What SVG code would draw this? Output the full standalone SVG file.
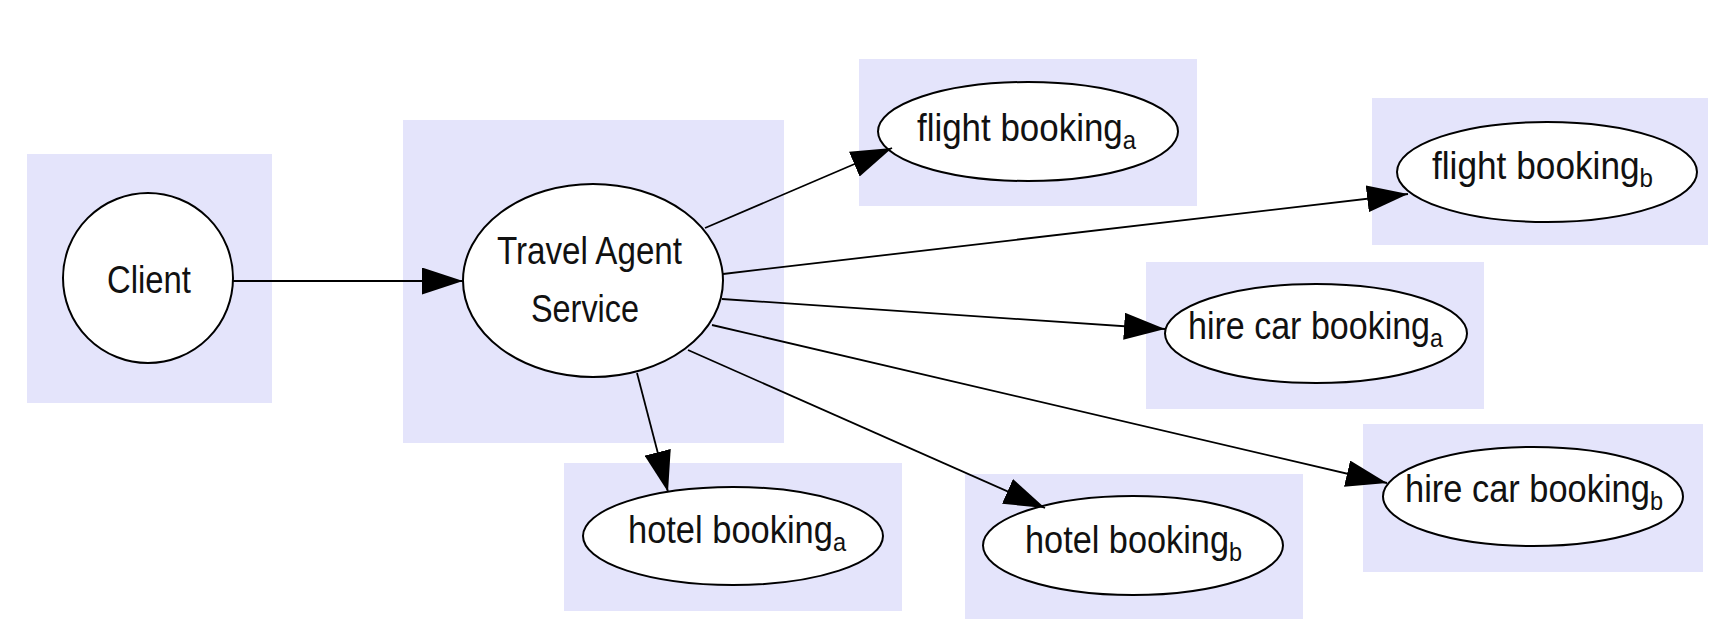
<svg xmlns="http://www.w3.org/2000/svg" width="1712" height="632" viewBox="0 0 1712 632">
<style>
.cl{fill:#e4e4fb;stroke:none}
.nd{fill:#fff;stroke:#000;stroke-width:2}
.t{font-family:"Liberation Sans",Arial,sans-serif;font-size:38px;fill:#111}
.s{font-size:26px}
.e{fill:none;stroke:#000;stroke-width:1.8}
</style>
<defs>
<marker id="ah" viewBox="0 0 41 27" refX="41" refY="13.5" markerWidth="41" markerHeight="27" markerUnits="userSpaceOnUse" orient="auto">
<path d="M0,0 L41,13.5 L0,27 Z" fill="#000"/>
</marker>
</defs>
<rect width="1712" height="632" fill="#fff"/>
<g id="client">
<rect class="cl" x="27" y="154" width="245" height="249"/>
<circle class="nd" cx="148" cy="278" r="85"/>
<text class="t" x="107" y="293" textLength="84" lengthAdjust="spacingAndGlyphs">Client</text>
</g>
<g id="travel">
<rect class="cl" x="403" y="120" width="381" height="323"/>
<ellipse class="nd" cx="593" cy="280.5" rx="130" ry="96.5"/>
<text class="t" x="497" y="264" textLength="185" lengthAdjust="spacingAndGlyphs">Travel Agent</text>
<text class="t" x="531" y="322" textLength="108" lengthAdjust="spacingAndGlyphs">Service</text>
</g>
<g id="flight_a">
<rect class="cl" x="859" y="59" width="338" height="147"/>
<ellipse class="nd" cx="1028" cy="131.5" rx="150" ry="49.5"/>
<text class="t" x="917" y="141" textLength="219" lengthAdjust="spacingAndGlyphs">flight booking<tspan class="s" dy="8">a</tspan></text>
</g>
<g id="flight_b">
<rect class="cl" x="1372" y="98" width="336" height="147"/>
<ellipse class="nd" cx="1547" cy="172" rx="150" ry="50"/>
<text class="t" x="1432" y="179" textLength="221" lengthAdjust="spacingAndGlyphs">flight booking<tspan class="s" dy="8">b</tspan></text>
</g>
<g id="hire_a">
<rect class="cl" x="1146" y="262" width="338" height="147"/>
<ellipse class="nd" cx="1316" cy="333.5" rx="151" ry="49.5"/>
<text class="t" x="1188" y="339" textLength="255" lengthAdjust="spacingAndGlyphs">hire car booking<tspan class="s" dy="8">a</tspan></text>
</g>
<g id="hire_b">
<rect class="cl" x="1363" y="424" width="340" height="148"/>
<ellipse class="nd" cx="1533" cy="496.5" rx="150" ry="49.5"/>
<text class="t" x="1405" y="502" textLength="258" lengthAdjust="spacingAndGlyphs">hire car booking<tspan class="s" dy="8">b</tspan></text>
</g>
<g id="hotel_a">
<rect class="cl" x="564" y="463" width="338" height="148"/>
<ellipse class="nd" cx="733" cy="536" rx="150" ry="49"/>
<text class="t" x="628" y="543" textLength="218" lengthAdjust="spacingAndGlyphs">hotel booking<tspan class="s" dy="8">a</tspan></text>
</g>
<g id="hotel_b">
<rect class="cl" x="965" y="474" width="338" height="145"/>
<ellipse class="nd" cx="1133" cy="545.5" rx="150" ry="49.5"/>
<text class="t" x="1025" y="553" textLength="217" lengthAdjust="spacingAndGlyphs">hotel booking<tspan class="s" dy="8">b</tspan></text>
</g>
<g id="edges">
<path class="e" d="M233,281 L463,281" marker-end="url(#ah)"/>
<path class="e" d="M705,228 L892,148" marker-end="url(#ah)"/>
<path class="e" d="M723,274 L1408,194" marker-end="url(#ah)"/>
<path class="e" d="M722,299 L1165,329" marker-end="url(#ah)"/>
<path class="e" d="M712,325 L1387,483" marker-end="url(#ah)"/>
<path class="e" d="M688,350 L1045,508" marker-end="url(#ah)"/>
<path class="e" d="M637,373 L668,492" marker-end="url(#ah)"/>
</g>
</svg>
